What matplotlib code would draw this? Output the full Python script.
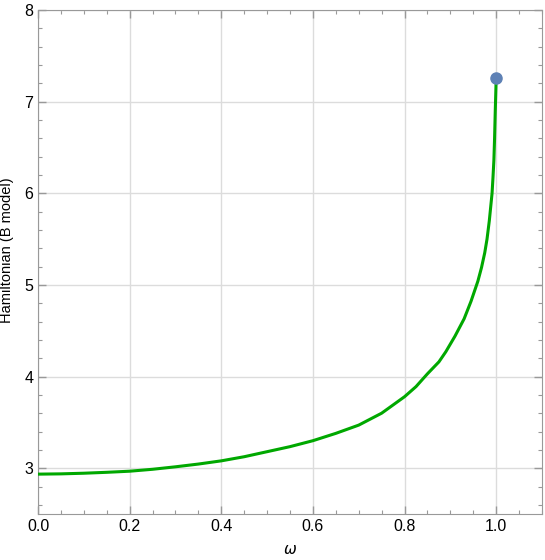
import matplotlib
matplotlib.use("Agg")
from matplotlib import pyplot as plt
from matplotlib.ticker import MultipleLocator

# values
omega = [0.0, 0.05, 0.1, 0.15, 0.2, 0.25, 0.3, 0.35, 0.4, 0.45, 0.5, 0.55,
         0.6, 0.65, 0.7, 0.75, 0.8, 0.825, 0.85, 0.875, 0.89, 0.91, 0.93,
         0.945, 0.96, 0.968, 0.975, 0.98, 0.985, 0.988, 0.991, 0.993, 0.995,
         0.9965, 0.998, 0.999, 1.0]
hamiltonian = [2.935, 2.938, 2.945, 2.955, 2.967, 2.988, 3.015, 3.045, 3.08,
               3.125, 3.18, 3.235, 3.30, 3.38, 3.47, 3.60, 3.78, 3.89, 4.03,
               4.16, 4.27, 4.44, 4.63, 4.82, 5.04, 5.19, 5.35, 5.50, 5.70,
               5.85, 6.00, 6.17, 6.36, 6.60, 6.90, 7.07, 7.25]
end_point = (1.0, 7.255)

plt.rcParams["font.family"] = ["Liberation Sans", "DejaVu Sans"]

fig = plt.figure(figsize=(5.45, 5.6), dpi=100)
ax = fig.add_axes([38 / 545, 46 / 560, 504 / 545, 504 / 560])

ax.plot(omega, hamiltonian, color="#00a800", lw=2.2, zorder=3,
        solid_joinstyle="round")
ax.plot(*end_point, "o", color="#5e81b5", ms=8, zorder=4)

ax.set_xlim(0, 1.1)
ax.set_ylim(2.5, 8)
ax.xaxis.set_major_locator(MultipleLocator(0.2))
ax.xaxis.set_minor_locator(MultipleLocator(0.05))
ax.yaxis.set_major_locator(MultipleLocator(1))
ax.yaxis.set_minor_locator(MultipleLocator(0.2))
ax.xaxis.set_major_formatter(lambda v, p: f"{v:.1f}")
ax.yaxis.set_major_formatter(lambda v, p: f"{v:.0f}")

ax.grid(True, which="major", color="#dcdcdc", lw=1)
ax.set_axisbelow(True)
for s in ax.spines.values():
    s.set_color("#999999")
ax.tick_params(which="both", direction="in", top=True, right=True,
               colors="#999999", labelcolor="black", labelsize=11.5)
ax.tick_params(which="major", length=6, width=1)
ax.tick_params(which="minor", length=3, width=0.8)

ax.set_xlabel("ω", fontsize=11, style="italic", family="DejaVu Sans")
ax.xaxis.set_label_coords(0.5, -0.056)
ax.set_ylabel("Hamiltonian (B model)", fontsize=10.5)
ax.yaxis.set_label_coords(-0.047, 0.524)

fig.savefig("out.png", dpi=100)
